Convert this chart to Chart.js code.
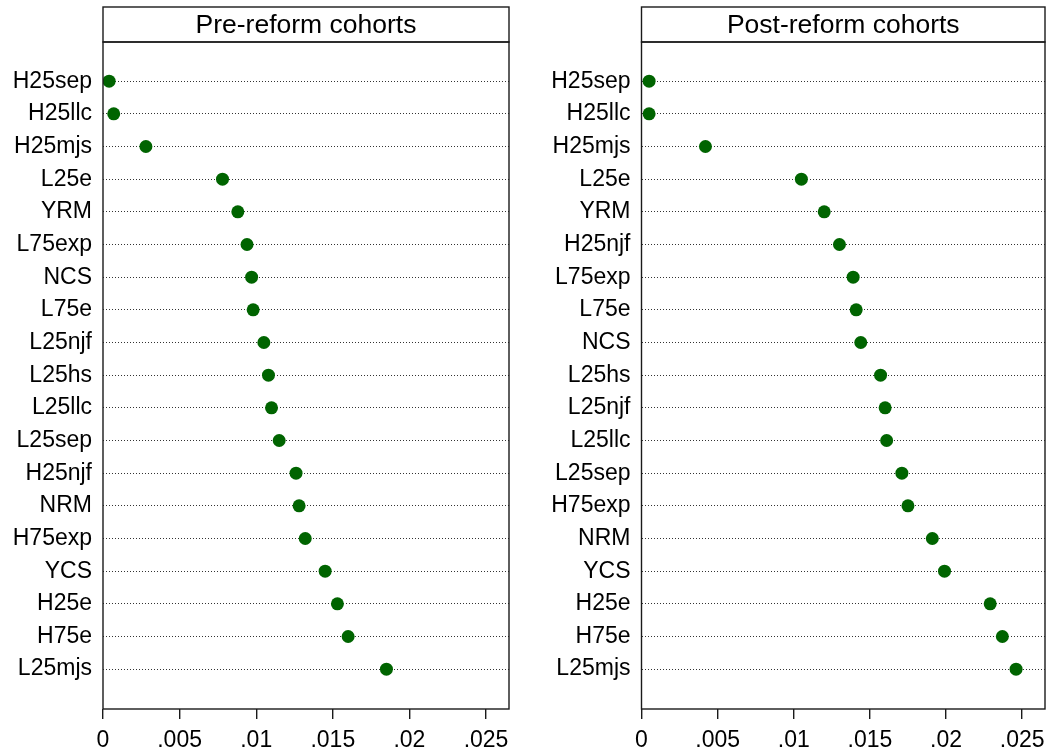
<!DOCTYPE html>
<html>
<head>
<meta charset="utf-8">
<script src="https://cdn.jsdelivr.net/npm/chart.js@4/dist/chart.umd.min.js"></script>
<style>
  html, body { margin: 0; padding: 0; background: #fff; }
  #wrap { position: relative; width: 1061px; height: 754px; }
  .panel { position: absolute; top: 0; height: 754px; }
</style>
</head>
<body>
<div id="wrap">
  <div class="panel" style="left:0;width:530px;"><canvas id="pre"></canvas></div>
  <div class="panel" style="left:530px;width:531px;"><canvas id="post"></canvas></div>
</div>
<script>
const preTitle = "Pre-reform cohorts";
const postTitle = "Post-reform cohorts";

const preLabels = ["H25sep","H25llc","H25mjs","L25e","YRM","L75exp","NCS","L75e","L25njf","L25hs","L25llc","L25sep","H25njf","NRM","H75exp","YCS","H25e","H75e","L25mjs"];
const preValues = [0.0004,0.0007,0.0028,0.0078,0.0088,0.0094,0.0097,0.0098,0.0105,0.0108,0.0110,0.0115,0.0126,0.0128,0.0132,0.0145,0.0153,0.0160,0.0185];

const postLabels = ["H25sep","H25llc","H25mjs","L25e","YRM","H25njf","L75exp","L75e","NCS","L25hs","L25njf","L25llc","L25sep","H75exp","NRM","YCS","H25e","H75e","L25mjs"];
const postValues = [0.0005,0.0005,0.0042,0.0105,0.0120,0.0130,0.0139,0.0141,0.0144,0.0157,0.0160,0.0161,0.0171,0.0175,0.0191,0.0199,0.0229,0.0237,0.0246];

const xTickValues = [0, 0.005, 0.01, 0.015, 0.02, 0.025];
const xTickLabels = ["0", ".005", ".01", ".015", ".02", ".025"];
const xMax = 0.0265;

const FONT = "'Liberation Sans', Arial, sans-serif";
const DOT = "#006400";
const FRAME = "#1a1a1a";

const framePlugin = {
  id: 'frame',
  afterDraw(chart) {
    const { ctx, chartArea: a } = chart;
    const title = chart.options.plugins.panelTitle.text;
    ctx.save();
    ctx.strokeStyle = FRAME;
    ctx.lineWidth = 1.4;
    ctx.strokeRect(a.left, a.top, a.right - a.left, a.bottom - a.top);
    ctx.strokeRect(a.left, 7, a.right - a.left, a.top - 7);
    ctx.fillStyle = '#000';
    ctx.font = "26.5px " + FONT;
    ctx.textAlign = 'center';
    ctx.textBaseline = 'middle';
    ctx.fillText(title, (a.left + a.right) / 2, (7 + a.top) / 2 + 1);
    ctx.restore();
  }
};

function makeChart(id, title, labels, values, yWidth, padRight) {
  const data = values.map((v, i) => ({ x: v, y: i }));
  return new Chart(document.getElementById(id), {
    type: 'scatter',
    data: {
      datasets: [{
        data: data,
        backgroundColor: DOT,
        borderColor: DOT,
        borderWidth: 0,
        pointRadius: 6.5,
        pointHoverRadius: 6.5
      }]
    },
    options: {
      responsive: true,
      maintainAspectRatio: false,
      animation: false,
      events: [],
      layout: { padding: { top: 42, right: padRight, bottom: 0, left: 0 } },
      plugins: {
        legend: { display: false },
        tooltip: { enabled: false },
        title: { display: false },
        panelTitle: { text: title }
      },
      scales: {
        x: {
          type: 'linear',
          min: 0,
          max: xMax,
          afterBuildTicks: (s) => { s.ticks = xTickValues.map(v => ({ value: v })); },
          afterFit: (s) => { s.height = 45; },
          ticks: {
            color: '#000',
            font: { family: FONT, size: 23 },
            padding: 8,
            maxRotation: 0,
            autoSkip: false,
            callback: (v) => {
              const i = xTickValues.findIndex(t => Math.abs(t - v) < 1e-9);
              return i >= 0 ? xTickLabels[i] : '';
            }
          },
          grid: {
            display: true,
            drawOnChartArea: false,
            drawTicks: true,
            tickLength: 10,
            color: FRAME,
            lineWidth: 1.4
          },
          border: { display: false }
        },
        y: {
          type: 'linear',
          reverse: true,
          min: -1.2,
          max: labels.length - 1 + 1.22,
          afterBuildTicks: (s) => { s.ticks = labels.map((_, i) => ({ value: i })); },
          afterFit: (s) => { s.width = yWidth; },
          ticks: {
            color: '#000',
            font: { family: FONT, size: 23 },
            padding: 11,
            autoSkip: false,
            callback: (v) => labels[Math.round(v)] ?? ''
          },
          grid: {
            display: true,
            drawOnChartArea: true,
            drawTicks: false,
            color: '#333',
            lineWidth: 1,
            borderDash: [1, 2]
          },
          border: { display: false, dash: [1, 2] }
        }
      }
    },
    plugins: [framePlugin]
  });
}

makeChart('pre', preTitle, preLabels, preValues, 103, 21);
makeChart('post', postTitle, postLabels, postValues, 111.5, 16);
</script>
</body>
</html>
